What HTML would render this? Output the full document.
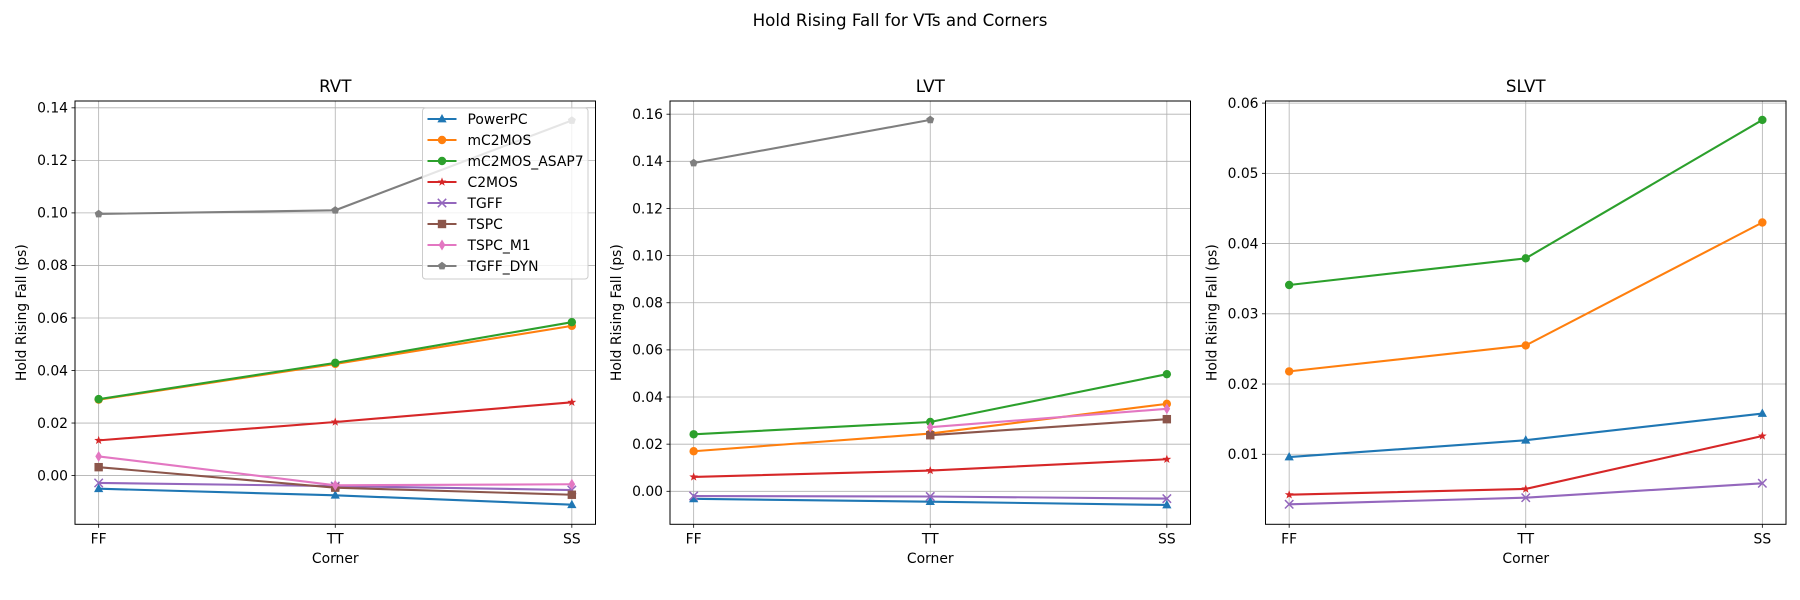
<!DOCTYPE html>
<html><head><meta charset="utf-8"><style>
html,body{margin:0;padding:0;background:#fff;}
svg{display:block;font-family:"DejaVu Sans","Liberation Sans",sans-serif;}
</style></head><body>
<svg id="fig" width="1800" height="600" viewBox="0 0 1800 600">
<text x="900" y="26" font-size="16.7" text-anchor="middle" fill="#000">Hold Rising Fall for VTs and Corners</text>
</svg>
<script>
const categories = ["FF","TT","SS"];
const seriesNames = ["PowerPC","mC2MOS","mC2MOS_ASAP7","C2MOS","TGFF","TSPC","TSPC_M1","TGFF_DYN"];
const colors = ["#1f77b4","#ff7f0e","#2ca02c","#d62728","#9467bd","#8c564b","#e377c2","#7f7f7f"];
const markers = ["^","o","o","*","x","s","d","p"];
// RVT values
const rvtPowerPC = [-0.0050,-0.0075,-0.0111];
const rvtMC2MOS = [0.0289,0.0425,0.0570];
const rvtASAP7 = [0.0291,0.0429,0.0584];
const rvtC2MOS = [0.0134,0.0204,0.0279];
const rvtTGFF = [-0.0028,-0.0040,-0.0055];
const rvtTSPC = [0.0032,-0.0046,-0.0073];
const rvtTSPCM1 = [0.0073,-0.0037,-0.0033];
const rvtTGFFDYN = [0.0996,0.1010,0.1352];
// LVT values
const lvtPowerPC = [-0.0032,-0.0044,-0.0058];
const lvtMC2MOS = [0.0170,0.0245,0.0371];
const lvtASAP7 = [0.0242,0.0294,0.0497];
const lvtC2MOS = [0.0061,0.0088,0.0136];
const lvtTGFF = [-0.0020,-0.0022,-0.0031];
const lvtTSPC = [null,0.0238,0.0306];
const lvtTSPCM1 = [null,0.0272,0.0350];
const lvtTGFFDYN = [0.1393,0.1576,null];
// SLVT values
const slvtPowerPC = [0.0096,0.0120,0.0158];
const slvtMC2MOS = [0.0218,0.0255,0.0430];
const slvtASAP7 = [0.0341,0.0379,0.0576];
const slvtC2MOS = [0.00424,0.00506,0.0126];
const slvtTGFF = [0.00288,0.00382,0.00587];
// tick labels
const rvtTicks = [0.00,0.02,0.04,0.06,0.08,0.10,0.12,0.14];
const lvtTicks = [0.00,0.02,0.04,0.06,0.08,0.10,0.12,0.14,0.16];
const slvtTicks = [0.01,0.02,0.03,0.04,0.05,0.06];

const NS="http://www.w3.org/2000/svg";
const svg=document.getElementById('fig');
function el(tag,attrs,parent){const e=document.createElementNS(NS,tag);for(const k in attrs)e.setAttribute(k,attrs[k]);(parent||svg).appendChild(e);return e;}

function marker(g,type,x,y,c){
  const r=4.2;let m;
  if(type==='o'){m=el('circle',{cx:x,cy:y,r:r,fill:c},g);}
  else if(type==='^'){m=el('polygon',{points:`${x},${y-r*1.2} ${x-r*1.1},${y+r*0.8} ${x+r*1.1},${y+r*0.8}`,fill:c},g);}
  else if(type==='s'){m=el('rect',{x:x-r,y:y-r,width:2*r,height:2*r,fill:c},g);}
  else if(type==='d'){m=el('polygon',{points:`${x},${y-r*1.3} ${x+r*0.8},${y} ${x},${y+r*1.3} ${x-r*0.8},${y}`,fill:c},g);}
  else if(type==='x'){m=el('path',{d:`M${x-r} ${y-r}L${x+r} ${y+r}M${x-r} ${y+r}L${x+r} ${y-r}`,stroke:c,'stroke-width':1.5,fill:'none'},g);}
  else if(type==='*'){let p=[];for(let i=0;i<10;i++){const a=-Math.PI/2+i*Math.PI/5;const rr=i%2?r*0.45:r*1.1;p.push((x+rr*Math.cos(a)).toFixed(2)+','+(y+rr*Math.sin(a)).toFixed(2));}m=el('polygon',{points:p.join(' '),fill:c},g);}
  else if(type==='p'){let p=[];for(let i=0;i<5;i++){const a=-Math.PI/2+i*2*Math.PI/5;p.push((x+r*Math.cos(a)).toFixed(2)+','+(y+r*Math.sin(a)).toFixed(2));}m=el('polygon',{points:p.join(' '),fill:c},g);}
  
  
}

function panel(name,left,title,ymin,ymax,ticks,dec,series){
  const top=101,bottom=524.3,right=left+520.5;
  const g=el('g',{});
  
  
  const n=categories.length;
  const xr=(right-left);
  const X=i=>left+xr/22+i*(xr*20/22)/(n-1);
  const Y=v=>bottom-(v-ymin)/(ymax-ymin)*(bottom-top);
  ticks.forEach(t=>{const y=Y(t);
    const gl=el('line',{x1:left,x2:right,y1:y,y2:y,stroke:'#b0b0b0','stroke-width':0.8},g);
    
    el('line',{x1:left-3.5,x2:left,y1:y,y2:y,stroke:'#000','stroke-width':0.8},g);
    const tl=el('text',{x:left-7,y:y+4.8,'font-size':13.9,'text-anchor':'end',fill:'#000'},g);
    tl.textContent=t.toFixed(dec);
    
  });
  categories.forEach((c,i)=>{const x=X(i);
    const gl=el('line',{x1:x,x2:x,y1:top,y2:bottom,stroke:'#b0b0b0','stroke-width':0.8},g);
    
    el('line',{x1:x,x2:x,y1:bottom,y2:bottom+3.5,stroke:'#000','stroke-width':0.8},g);
    const tl=el('text',{x:x,y:bottom+19,'font-size':13.9,'text-anchor':'middle',fill:'#000'},g);
    tl.textContent=c;
    
  });
  series.forEach(s=>{
    const idx=s[0],vals=s[1];
    const sg=el('g',{},g);
    
    
    let pts=[];vals.forEach((v,i)=>{if(v!==null)pts.push([X(i),Y(v)]);});
    const pl=el('polyline',{points:pts.map(p=>p[0].toFixed(2)+','+p[1].toFixed(2)).join(' '),fill:'none',stroke:colors[idx],'stroke-width':2.1},sg);
    
    pts.forEach(p=>marker(sg,markers[idx],p[0],p[1],colors[idx]));
  });
  const fr=el('rect',{x:left,y:top,width:right-left,height:bottom-top,fill:'none',stroke:'#000','stroke-width':1},g);
  
  const tt=el('text',{x:(left+right)/2,y:92,'font-size':16.7,'text-anchor':'middle',fill:'#000'},g);
  tt.textContent=title;
  const xl=el('text',{x:(left+right)/2,y:563,'font-size':13.9,'text-anchor':'middle',fill:'#000'},g);
  xl.textContent='Corner';
  const yx=left-49,yy=(top+bottom)/2;
  const yl=el('text',{x:yx,y:yy,'font-size':13.9,'text-anchor':'middle',fill:'#000',transform:`rotate(-90 ${yx} ${yy})`},g);
  yl.textContent='Hold Rising Fall (ps)';
  return g;
}

panel('rvt',75,'RVT',-0.01855,0.1426,rvtTicks,2,[[0,rvtPowerPC],[1,rvtMC2MOS],[2,rvtASAP7],[3,rvtC2MOS],[4,rvtTGFF],[5,rvtTSPC],[6,rvtTSPCM1],[7,rvtTGFFDYN]]);
panel('lvt',670,'LVT',-0.0140,0.1656,lvtTicks,2,[[0,lvtPowerPC],[1,lvtMC2MOS],[2,lvtASAP7],[3,lvtC2MOS],[4,lvtTGFF],[5,lvtTSPC],[6,lvtTSPCM1],[7,lvtTGFFDYN]]);
panel('slvt',1265.5,'SLVT',0.0000285,0.0603,slvtTicks,2,[[0,slvtPowerPC],[1,slvtMC2MOS],[2,slvtASAP7],[3,slvtC2MOS],[4,slvtTGFF]]);

const lg=el('g',{});


const lb=el('rect',{x:422.5,y:108,width:165.5,height:171,rx:3,fill:'#fff','fill-opacity':0.8,stroke:'#cccccc','stroke-width':1},lg);

seriesNames.forEach((nm,i)=>{
  const y=119+i*21;
  const eg=el('g',{},lg);
  
  
  el('line',{x1:427.5,x2:456.5,y1:y,y2:y,stroke:colors[i],'stroke-width':2.1},eg);
  marker(eg,markers[i],442,y,colors[i]);
  const t=el('text',{x:467.5,y:y+4.8,'font-size':13.9,fill:'#000'},eg);
  t.textContent=nm;
  
  
});
</script>
</body></html>
